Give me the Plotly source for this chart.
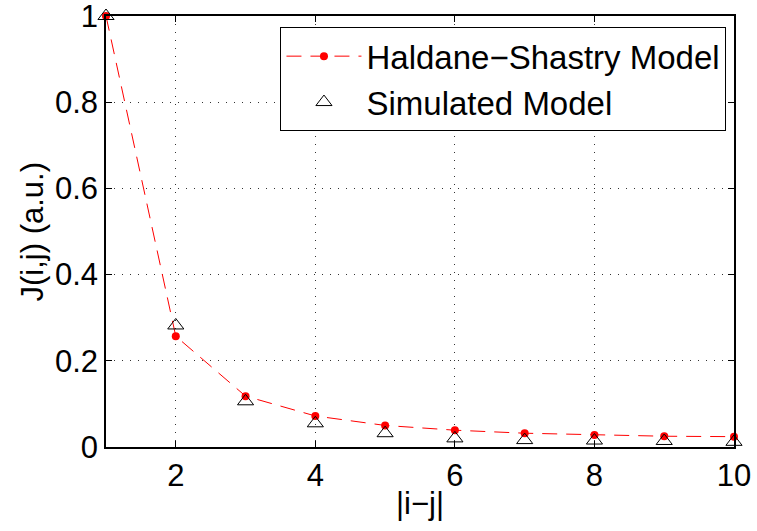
import plotly.graph_objects as go

# Coupling strength versus site separation
separation = [1, 2, 3, 4, 5, 6, 7, 8, 9, 10]
haldane_shastry = [1.0, 0.257, 0.118, 0.072, 0.050, 0.039, 0.032, 0.028, 0.025, 0.024]
simulated = [1.0, 0.282, 0.106, 0.055, 0.032, 0.020, 0.016, 0.015, 0.014, 0.012]

x_ticks = [2, 4, 6, 8, 10]
y_ticks = [0, 0.2, 0.4, 0.6, 0.8, 1]
y_tick_text = ["0", "0.2", "0.4", "0.6", "0.8", "1"]

FONT = "Liberation Sans, Arial, Helvetica, sans-serif"

fig = go.Figure()
fig.add_trace(go.Scatter(
    x=separation, y=haldane_shastry, mode="lines+markers",
    name="Haldane\u2212Shastry Model",
    line=dict(color="#ff0000", width=1, dash="15px,9px"),
    marker=dict(color="#ff0000", size=8, symbol="circle"),
    cliponaxis=False,
))
fig.add_trace(go.Scatter(
    x=separation, y=simulated, mode="markers",
    name="Simulated Model",
    marker=dict(color="black", size=14, symbol="triangle-up-open",
                line=dict(width=1, color="black")),
    cliponaxis=False,
))

axis_common = dict(
    showline=True, linecolor="black", linewidth=1.5, mirror="allticks",
    ticks="inside", ticklen=6, tickcolor="black", tickwidth=1,
    showgrid=True, gridcolor="#333333", griddash="1px,7px", gridwidth=1,
    zeroline=False, tickfont=dict(family=FONT, size=31, color="black"),
    ticklabeloverflow="allow", automargin=False,
)

fig.update_xaxes(range=[1, 10], tickvals=x_ticks,
                 title=dict(text="|i\u2212j|", font=dict(family=FONT, size=31, color="black"), standoff=0),
                 **axis_common)
fig.update_yaxes(range=[0, 1], tickvals=y_ticks, ticktext=y_tick_text, **axis_common)

# y-axis title placed as a rotated annotation left of the tick labels
fig.add_annotation(
    text="J(i,j) (a.u.)", xref="paper", yref="paper", x=0, y=0.5,
    xanchor="center", yanchor="middle", xshift=-74, textangle=-90,
    showarrow=False, font=dict(family=FONT, size=31, color="black"),
)

fig.update_layout(
    width=757, height=531,
    margin=dict(l=106, r=23, t=16, b=84),
    paper_bgcolor="white", plot_bgcolor="white",
    font=dict(family=FONT, color="black"),
    legend=dict(x=0.988, y=0.974, xanchor="right", yanchor="top",
                bordercolor="black", borderwidth=1, bgcolor="white",
                font=dict(family=FONT, size=33, color="black"),
                itemwidth=75, tracegroupgap=0),
    showlegend=True,
)

fig.write_html("out.html")
